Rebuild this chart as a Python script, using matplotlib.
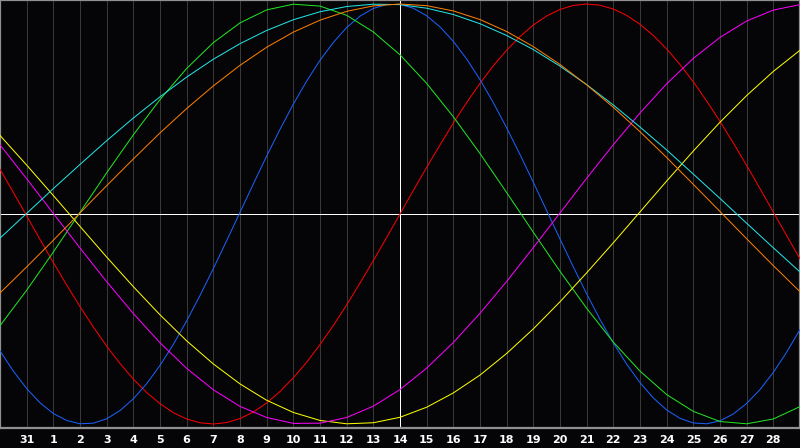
import matplotlib
matplotlib.use("Agg")
import matplotlib.pyplot as plt

# x positions: 0..30 (one unit per day); tick labels for positions 1..29
day_labels = ["31"] + [str(d) for d in range(1, 29)]
tick_pos = list(range(1, 30))
days = list(range(0, 31))
half_days = [i / 2 for i in range(0, 61)]
today_pos = 15

red = [0.213,0.103,-0.009,-0.121,-0.231,-0.338,-0.441,-0.538,-0.629,-0.712,-0.786,-0.850,-0.903,-0.946,-0.976,-0.994,-1.000,-0.993,-0.974,-0.943,-0.900,-0.845,-0.780,-0.706,-0.622,-0.531,-0.433,-0.329,-0.222,-0.112,0.000,0.112,0.222,0.329,0.433,0.531,0.622,0.706,0.780,0.845,0.900,0.943,0.974,0.993,1.000,0.994,0.976,0.946,0.903,0.850,0.786,0.712,0.629,0.538,0.441,0.338,0.231,0.121,0.009,-0.103,-0.213]
blue = [-0.652,-0.748,-0.831,-0.899,-0.950,-0.983,-0.999,-0.996,-0.975,-0.936,-0.880,-0.808,-0.721,-0.621,-0.509,-0.388,-0.260,-0.127,0.008,0.143,0.276,0.403,0.523,0.633,0.732,0.817,0.888,0.942,0.979,0.997,0.998,0.980,0.944,0.891,0.822,0.738,0.640,0.530,0.410,0.283,0.151,0.016,-0.119,-0.252,-0.380,-0.502,-0.614,-0.715,-0.803,-0.876,-0.933,-0.973,-0.995,-0.999,-0.985,-0.952,-0.902,-0.836,-0.754,-0.658,-0.550]
green = [-0.532,-0.363,-0.181,0.008,0.196,0.377,0.545,0.693,0.816,0.910,0.972,0.999,0.990,0.946,0.867,0.758,0.622,0.463,0.288,0.102,-0.087,-0.273,-0.449,-0.610,-0.748,-0.860,-0.940,-0.988,-0.999,-0.976,-0.917]
yellow = [0.374,0.233,0.088,-0.059,-0.205,-0.346,-0.480,-0.604,-0.714,-0.809,-0.887,-0.945,-0.983,-0.999,-0.994,-0.968,-0.920,-0.852,-0.767,-0.664,-0.547,-0.418,-0.280,-0.137,0.010,0.157,0.300,0.437,0.564,0.679,0.780]
magenta = [0.329,0.168,0.003,-0.162,-0.322,-0.474,-0.613,-0.735,-0.837,-0.916,-0.969,-0.997,-0.996,-0.969,-0.915,-0.836,-0.734,-0.612,-0.473,-0.321,-0.160,0.005,0.170,0.330,0.481,0.620,0.741,0.841,0.919,0.971,0.997]
cyan = [-0.115,0.003,0.121,0.236,0.349,0.457,0.558,0.652,0.737,0.811,0.874,0.925,0.963,0.988,0.999,0.997,0.980,0.950,0.906,0.850,0.783,0.704,0.616,0.519,0.414,0.305,0.190,0.074,-0.044,-0.161,-0.276]
orange = [-0.376,-0.252,-0.125,0.005,0.135,0.262,0.386,0.502,0.610,0.708,0.794,0.866,0.923,0.965,0.991,1.000,0.992,0.967,0.926,0.869,0.797,0.712,0.615,0.508,0.392,0.269,0.141,0.012,-0.118,-0.246,-0.370]

W, H = 800, 448
bg = "#050508"
fig = plt.figure(figsize=(W / 100, H / 100), dpi=100, facecolor=bg)
ax = fig.add_axes([0, 20 / H, 1, 428 / H], facecolor=bg)
ax.set_xlim(0, 30)
ax.set_ylim(-1.019, 1.019)
px = 0.72
for i in tick_pos:
    ax.axvline(i, color="#383838", lw=px, zorder=1)
ax.axvline(today_pos, color="white", lw=px, zorder=2)
ax.axhline(0, color="white", lw=px, zorder=2)

ax.plot(half_days, red, color="#ff0000", lw=px, zorder=3)
ax.plot(half_days, blue, color="#1a62ff", lw=px, zorder=3)
ax.plot(days, green, color="#22e622", lw=px, zorder=3)
ax.plot(days, yellow, color="#ffff00", lw=px, zorder=3)
ax.plot(days, magenta, color="#ff00ff", lw=px, zorder=3)
ax.plot(days, cyan, color="#22e6e6", lw=px, zorder=3)
ax.plot(days, orange, color="#ff8000", lw=px, zorder=3)

ax.set_xticks(tick_pos)
ax.set_xticklabels(day_labels)
ax.tick_params(axis="x", length=0, pad=5, colors="white", labelsize=8)
for lab in ax.get_xticklabels():
    lab.set_fontweight("bold")
    lab.set_family("DejaVu Sans")
ax.set_yticks([])
for s in ax.spines.values():
    s.set_color("#909090")
    s.set_linewidth(1.6)
fig.savefig("out.png", dpi=100, facecolor=fig.get_facecolor())
